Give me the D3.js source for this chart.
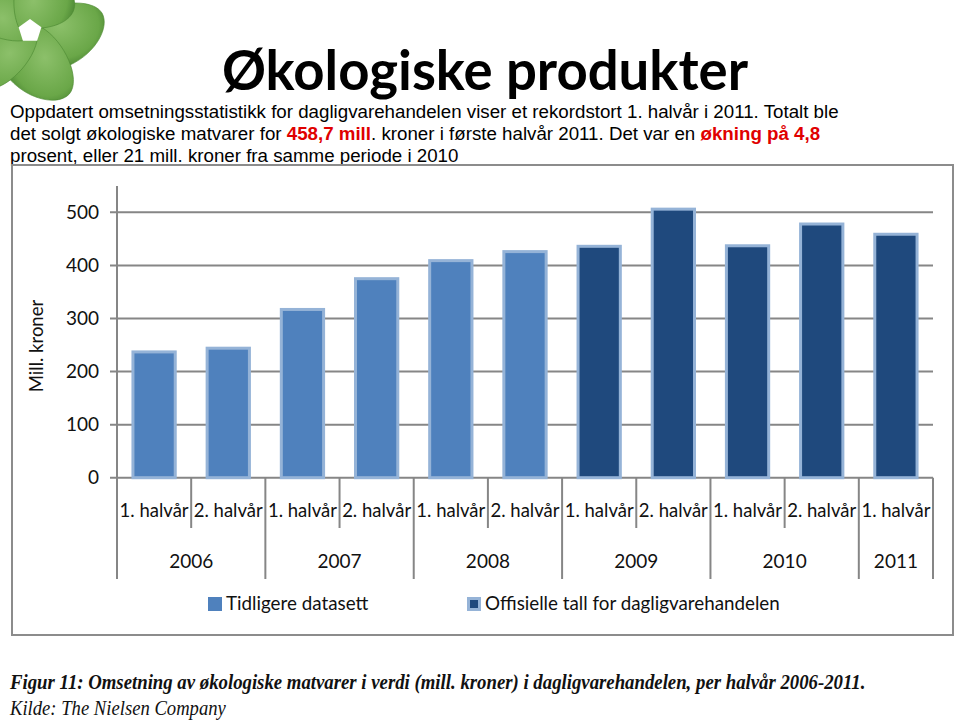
<!DOCTYPE html>
<html><head><meta charset="utf-8">
<script src="https://cdn.jsdelivr.net/npm/d3@7"></script>
<style>body{margin:0;background:#fff}svg{display:block}</style>
</head><body>
<script>
// ---- data ----
const halves = ["1. halvår","2. halvår","1. halvår","2. halvår","1. halvår","2. halvår","1. halvår","2. halvår","1. halvår","2. halvår","1. halvår"];
const years = ["2006","2007","2008","2009","2010","2011"];
const yearOf = ["2006","2006","2007","2007","2008","2008","2009","2009","2010","2010","2011"];
const values = [237, 244, 317, 375, 409, 426, 436, 506, 437, 478, 458.7];
const series = ["Tidligere datasett","Tidligere datasett","Tidligere datasett","Tidligere datasett","Tidligere datasett","Tidligere datasett",
  "Offisielle tall for dagligvarehandelen","Offisielle tall for dagligvarehandelen","Offisielle tall for dagligvarehandelen","Offisielle tall for dagligvarehandelen","Offisielle tall for dagligvarehandelen"];
const seriesNames = ["Tidligere datasett","Offisielle tall for dagligvarehandelen"];
const yTicks = [0,100,200,300,400,500];

const W=960,H=723;
const svg=d3.select("body").append("svg").attr("width",W).attr("height",H);
const defs=svg.append("defs");
const g1=defs.append("radialGradient").attr("id","leaf").attr("cx","40%").attr("cy","35%").attr("r","75%");
g1.append("stop").attr("offset","0%").attr("stop-color","#8cc06a");
g1.append("stop").attr("offset","70%").attr("stop-color","#6aa748");
g1.append("stop").attr("offset","100%").attr("stop-color","#3f7a2a");

// ---- logo (decorative) ----
const logo=svg.append("g").attr("transform","translate(30,31)");
const petal="M0,-12 C20,-30 62,-34 72,-18 C80,-4 66,22 40,34 C24,40 6,22 0,-12 Z";
[0,72,144,216,288].forEach(a=>{
  logo.append("path").attr("d",petal).attr("transform",`rotate(${a})`)
    .attr("fill","url(#leaf)").attr("stroke","#4d8a33").attr("stroke-width",0.6);
});
logo.append("path").attr("d",d3.range(5).map((k,j)=>{const a=(k*72-90)*Math.PI/180;return (j?"L":"M")+(12*Math.cos(a)).toFixed(1)+","+(12*Math.sin(a)).toFixed(1);}).join("")+"Z")
  .attr("fill","#fff");

function fit(sel,target){
  const n=sel.node(); let fs=parseFloat(sel.attr("font-size"));
  const w=n.getComputedTextLength(); const nf=fs*target/w; sel.attr("font-size",nf.toFixed(2)); return nf;
}
function squeeze(sel,target,x0){
  const w=sel.node().getComputedTextLength();
  sel.attr("transform",`translate(${x0},0) scale(${target/w},1) translate(${-x0},0)`);
}

// ---- title ----
const title=svg.append("text").attr("x",222).attr("y",90).attr("font-family","Lato, 'Open Sans', sans-serif")
  .attr("font-weight","bold").attr("font-size",56).attr("fill","#000").text("Økologiske produkter");
fit(title,526);

// ---- intro text ----
const lines=[
  [["Oppdatert omsetningsstatistikk for dagligvarehandelen viser et rekordstort 1. halvår i 2011. Totalt ble",false]],
  [["det solgt økologiske matvarer for ",false],["458,7 mill",true],[". kroner i første halvår 2011. Det var en ",false],["økning på 4,8",true]],
  [["prosent, eller 21 mill. kroner fra samme periode i 2010",false]]
];
const lineY=[118,140,162];
let bodyFs=17;
lines.forEach((ln,i)=>{
  const t=svg.append("text").attr("x",10).attr("y",lineY[i]).attr("font-family","'Liberation Sans', Arial, sans-serif")
    .attr("font-size",bodyFs).attr("fill","#000");
  ln.forEach(([s,red])=>{
    const sp=t.append("tspan").text(s);
    if(red) sp.attr("fill","#e00000").attr("font-weight","bold");
  });
  if(i===0) bodyFs=fit(t,829);
});

// ---- chart frame ----
svg.append("rect").attr("x",12).attr("y",165).attr("width",941).attr("height",470)
  .attr("fill","#fff").attr("stroke","#8c8c8c").attr("stroke-width",2);

const y=d3.scaleLinear().domain([0,550]).range([477.7,185.8]);
const x=d3.scaleBand().domain(d3.range(values.length)).range([117,933]).paddingInner(0.43).paddingOuter(0.215);
const step=x.step();
const bx=i=>117+i*(816/values.length);

const chartFont="Lato, 'Open Sans', sans-serif";
// gridlines
svg.append("g").selectAll("line").data(yTicks).join("line")
  .attr("x1",110).attr("x2",933).attr("y1",d=>y(d)).attr("y2",d=>y(d))
  .attr("stroke","#868686").attr("stroke-width",2);
// y axis line
svg.append("line").attr("x1",117).attr("x2",117).attr("y1",186).attr("y2",y(0)).attr("stroke","#868686").attr("stroke-width",2);
// y tick labels
svg.append("g").selectAll("text").data(yTicks).join("text")
  .attr("x",99).attr("y",d=>y(d)+6.5).attr("text-anchor","end").attr("font-family",chartFont)
  .attr("font-size",19).attr("fill","#111").text(d=>d);
// y title
svg.append("text").attr("transform","translate(43,346) rotate(-90)").attr("text-anchor","middle")
  .attr("font-family",chartFont).attr("font-size",18.5).attr("fill","#111").text("Mill. kroner");

// bars
const fillC={"Tidligere datasett":"#4f81bd","Offisielle tall for dagligvarehandelen":"#1f497d"};
svg.append("g").selectAll("rect").data(values).join("rect")
  .attr("x",(d,i)=>x(i)).attr("width",x.bandwidth())
  .attr("y",d=>y(d)).attr("height",d=>y(0)-y(d))
  .attr("fill",(d,i)=>fillC[series[i]]).attr("stroke","#95b3d7").attr("stroke-width",3);

// x category boundaries
const bounds=d3.range(values.length+1);
svg.append("g").selectAll("line").data(bounds).join("line")
  .attr("x1",i=>bx(i)).attr("x2",i=>bx(i)).attr("y1",y(0))
  .attr("y2",i=>(i===values.length || i===0 || yearOf[i]!==yearOf[i-1])?579:528)
  .attr("stroke","#868686").attr("stroke-width",2);
// half labels
svg.append("g").selectAll("text").data(halves).join("text")
  .attr("x",(d,i)=>bx(i)+step/2).attr("y",517).attr("text-anchor","middle")
  .attr("font-family",chartFont).attr("font-size",18.5).attr("fill","#111").text(d=>d);
// year labels
svg.append("g").selectAll("text").data(years).join("text")
  .attr("x",yr=>{const idx=d3.range(values.length).filter(i=>yearOf[i]===yr);return (bx(idx[0])+bx(idx[idx.length-1]+1))/2;})
  .attr("y",568).attr("text-anchor","middle")
  .attr("font-family",chartFont).attr("font-size",19).attr("fill","#111").text(d=>d);

// legend
const legX=[208,467];
seriesNames.forEach((s,i)=>{
  const lg=svg.append("g");
  if(i===0){
    lg.append("rect").attr("x",legX[i]).attr("y",597).attr("width",14).attr("height",14).attr("fill",fillC[s]);
  } else {
    lg.append("rect").attr("x",legX[i]+1.5).attr("y",598.5).attr("width",11).attr("height",11)
      .attr("fill",fillC[s]).attr("stroke","#95b3d7").attr("stroke-width",3);
  }
  lg.append("text").attr("x",legX[i]+18).attr("y",610).attr("font-family",chartFont)
    .attr("font-size",18.8).attr("fill","#111").text(s);
});

// caption
const cap=svg.append("text").attr("x",10).attr("y",689).attr("font-family","'Liberation Serif', 'DejaVu Serif', serif")
  .attr("font-style","italic").attr("font-weight","bold").attr("font-size",21.5).attr("fill","#111")
  .text("Figur 11: Omsetning av økologiske matvarer i verdi (mill. kroner) i dagligvarehandelen, per halvår 2006-2011.");
squeeze(cap,856,10);
const src=svg.append("text").attr("x",10).attr("y",715).attr("font-family","'Liberation Serif', 'DejaVu Serif', serif")
  .attr("font-style","italic").attr("font-size",21.5).attr("fill","#111").text("Kilde: The Nielsen Company");
squeeze(src,216,10);
</script>
</body></html>
